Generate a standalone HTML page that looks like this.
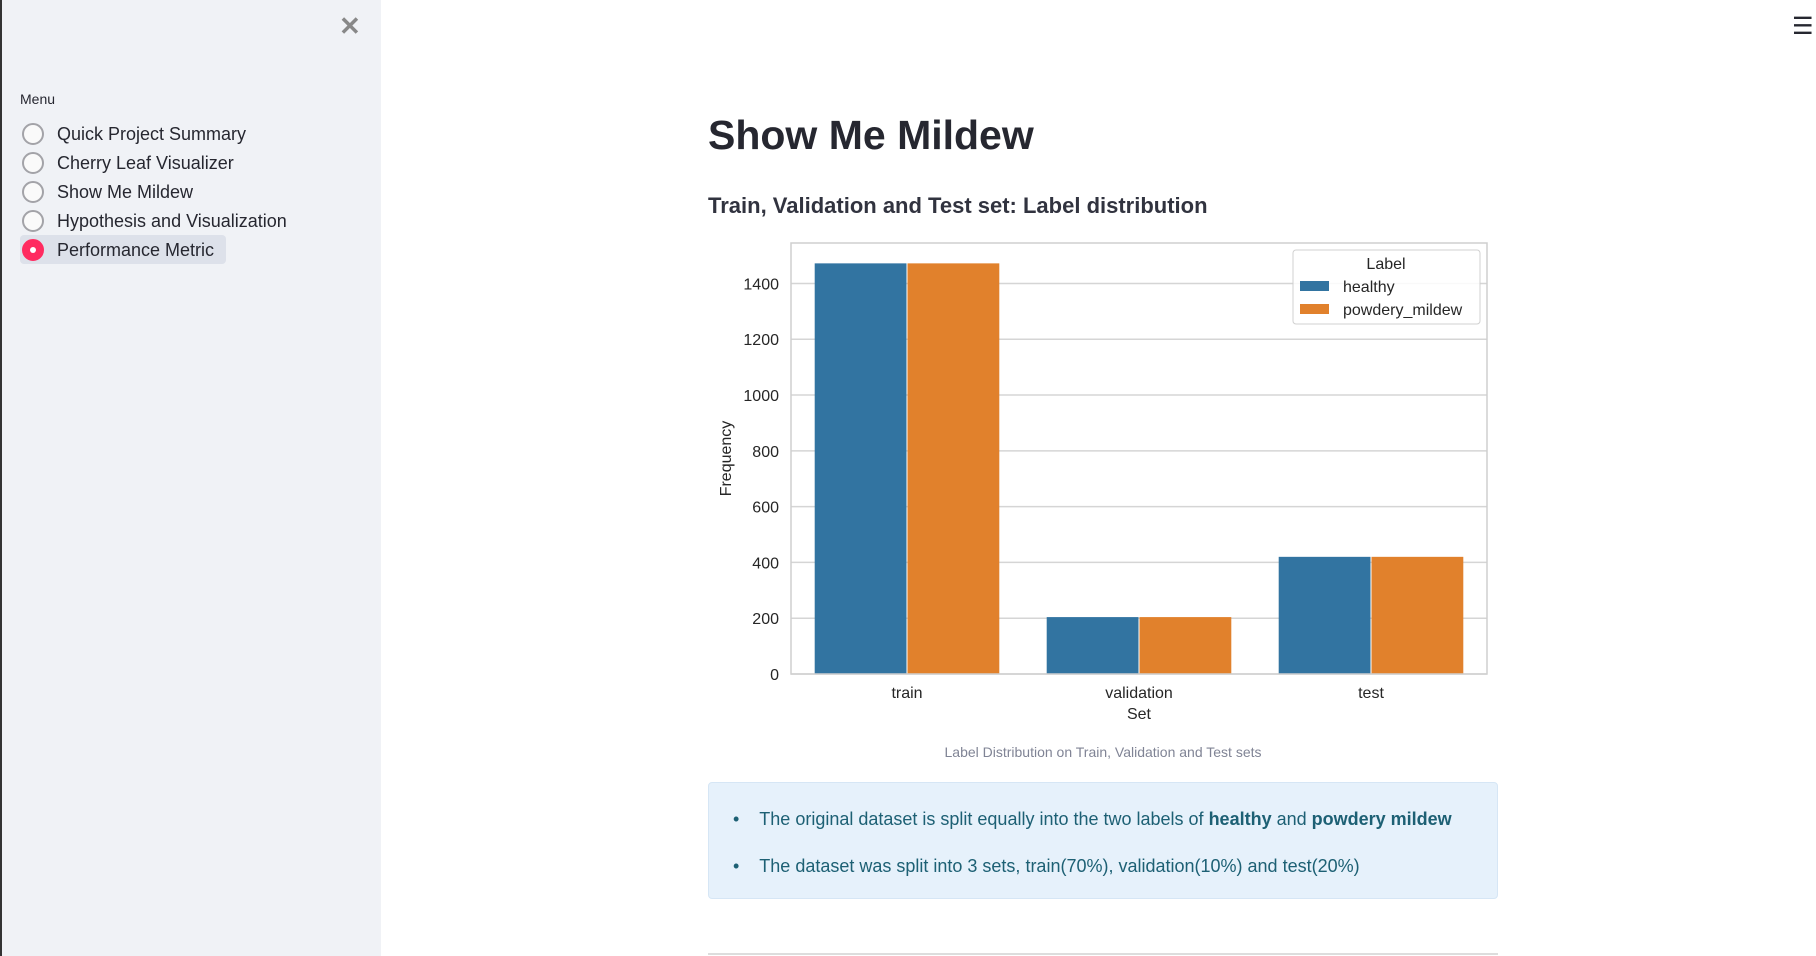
<!DOCTYPE html>
<html><head><meta charset="utf-8"><style>
body{margin:0;width:1816px;height:956px;overflow:hidden;background:#fff;font-family:"Liberation Sans",sans-serif;position:relative;color:#262730}
#sidebar{position:absolute;left:0;top:0;width:379px;height:956px;background:#f0f2f6;border-left:2px solid #333}
.abs{position:absolute;white-space:nowrap}
.radio{position:absolute;left:20px;width:18px;height:18px;border:2px solid #a3a3a8;border-radius:50%;background:#fafafa}
.opt{position:absolute;left:55px;font-size:18px;line-height:22px}
</style></head><body>
<div id="sidebar">
 <div class="abs" style="left:337px;top:11px;font-size:26px;color:#888;font-weight:bold">✕</div>
 <div class="abs" style="left:18px;top:91px;font-size:14px">Menu</div>
 <div style="position:absolute;left:18px;top:235px;width:206px;height:29px;background:#dde1ea;border-radius:4px"></div>
 <div class="radio" style="top:123px"></div>
 <div class="opt" style="top:123px">Quick Project Summary</div>
 <div class="radio" style="top:152px"></div>
 <div class="opt" style="top:152px">Cherry Leaf Visualizer</div>
 <div class="radio" style="top:181px"></div>
 <div class="opt" style="top:181px">Show Me Mildew</div>
 <div class="radio" style="top:210px"></div>
 <div class="opt" style="top:210px">Hypothesis and Visualization</div>
 <div class="radio" style="top:239px;background:#ff2b60;border-color:#ff2b60"><div style="width:6px;height:6px;background:#fff;border-radius:50%;margin:6px"></div></div>
 <div class="opt" style="top:239px">Performance Metric</div>
</div>
<div class="abs" style="left:1792px;top:12px;font-size:24px">☰</div>
<div class="abs" style="left:708px;top:112px;font-size:41px;font-weight:bold">Show Me Mildew</div>
<div class="abs" style="left:708px;top:193px;font-size:22px;font-weight:bold;color:#31333f">Train, Validation and Test set: Label distribution</div>
<svg id="chart" style="position:absolute;left:0;top:0" width="1816" height="956"></svg>
<div class="abs" style="left:1103px;top:744px;transform:translateX(-50%);font-size:14px;color:#808495">Label Distribution on Train, Validation and Test sets</div>
<div style="position:absolute;left:708px;top:782px;width:788px;height:115px;background:#e6f1fb;border:1px solid #d6e6f5;border-radius:4px;color:#1d6074;font-size:18px">
 <div class="abs" style="left:24px;top:26px">•&nbsp;&nbsp;&nbsp;&nbsp;The original dataset is split equally into the two labels of <b>healthy</b> and <b>powdery mildew</b></div>
 <div class="abs" style="left:24px;top:73px">•&nbsp;&nbsp;&nbsp;&nbsp;The dataset was split into 3 sets, train(70%), validation(10%) and test(20%)</div>
</div>
<div style="position:absolute;left:708px;top:953px;width:790px;height:2px;background:#ddd"></div>
<script>
const categories=["train","validation","test"];
const seriesNames=["healthy","powdery_mildew"];
const healthy=[1472,204,420];
const powderyMildew=[1472,204,420];
const yTicks=[0,200,400,600,800,1000,1200,1400];
const colors=["#3274a1","#e1812c"];
const svg=document.getElementById('chart');
const NS='http://www.w3.org/2000/svg';
const L=791,R=1487,T=243,B=674,yMax=1545;
function y(v){return B-v/yMax*(B-T);}
const band=(R-L)/categories.length;
function xc(i){return L+band*(i+0.5);}
function mk(tag,attrs,txt){const e=document.createElementNS(NS,tag);for(const k in attrs)e.setAttribute(k,attrs[k]);if(txt!=null)e.textContent=txt;svg.appendChild(e);return e;}
yTicks.forEach(t=>{
 const g=mk('line',{x1:L,x2:R,y1:y(t),y2:y(t),stroke:'#d5d5d5','stroke-width':1.5});
 
 
 const tx=mk('text',{x:L-12,y:y(t)+6,'text-anchor':'end','font-size':16,fill:'#262626','font-family':'Liberation Sans, sans-serif'},t);
 
 
});
const series=[healthy,powderyMildew];
const bw=band*0.4;
categories.forEach((c,i)=>{
 series.forEach((s,j)=>{
  const x0=xc(i)-bw+j*bw;
  const r=mk('rect',{x:x0+0.5,y:y(s[i]),width:bw-1,height:B-y(s[i]),fill:colors[j]});
  
  
 });
 const t=mk('text',{x:xc(i),y:698,'text-anchor':'middle','font-size':16,fill:'#262626','font-family':'Liberation Sans, sans-serif'},c);
 
 
});
const fr=mk('rect',{x:L,y:T,width:R-L,height:B-T,fill:'none',stroke:'#cfcfcf','stroke-width':1.5});


const xl=mk('text',{x:(L+R)/2,y:719,'text-anchor':'middle','font-size':16,fill:'#262626','font-family':'Liberation Sans, sans-serif'},'Set');


const yl=mk('text',{x:0,y:0,'text-anchor':'middle','font-size':16,fill:'#262626','font-family':'Liberation Sans, sans-serif',transform:'translate(731,'+((T+B)/2)+') rotate(-90)'},'Frequency');


const lg=mk('rect',{x:1293,y:250,width:187,height:74,rx:3,fill:'#fff','fill-opacity':0.85,stroke:'#d0d0d0'});


const lt=mk('text',{x:1386,y:269,'text-anchor':'middle','font-size':16,fill:'#262626','font-family':'Liberation Sans, sans-serif'},'Label');


seriesNames.forEach((n,j)=>{
 const yy=286+j*23;
 const p=mk('rect',{x:1300,y:yy-5,width:29,height:10,fill:colors[j]});
 
 
 const t=mk('text',{x:1343,y:yy+6,'font-size':16,fill:'#262626','font-family':'Liberation Sans, sans-serif'},n);
 
 
});
</script>
</body></html>
